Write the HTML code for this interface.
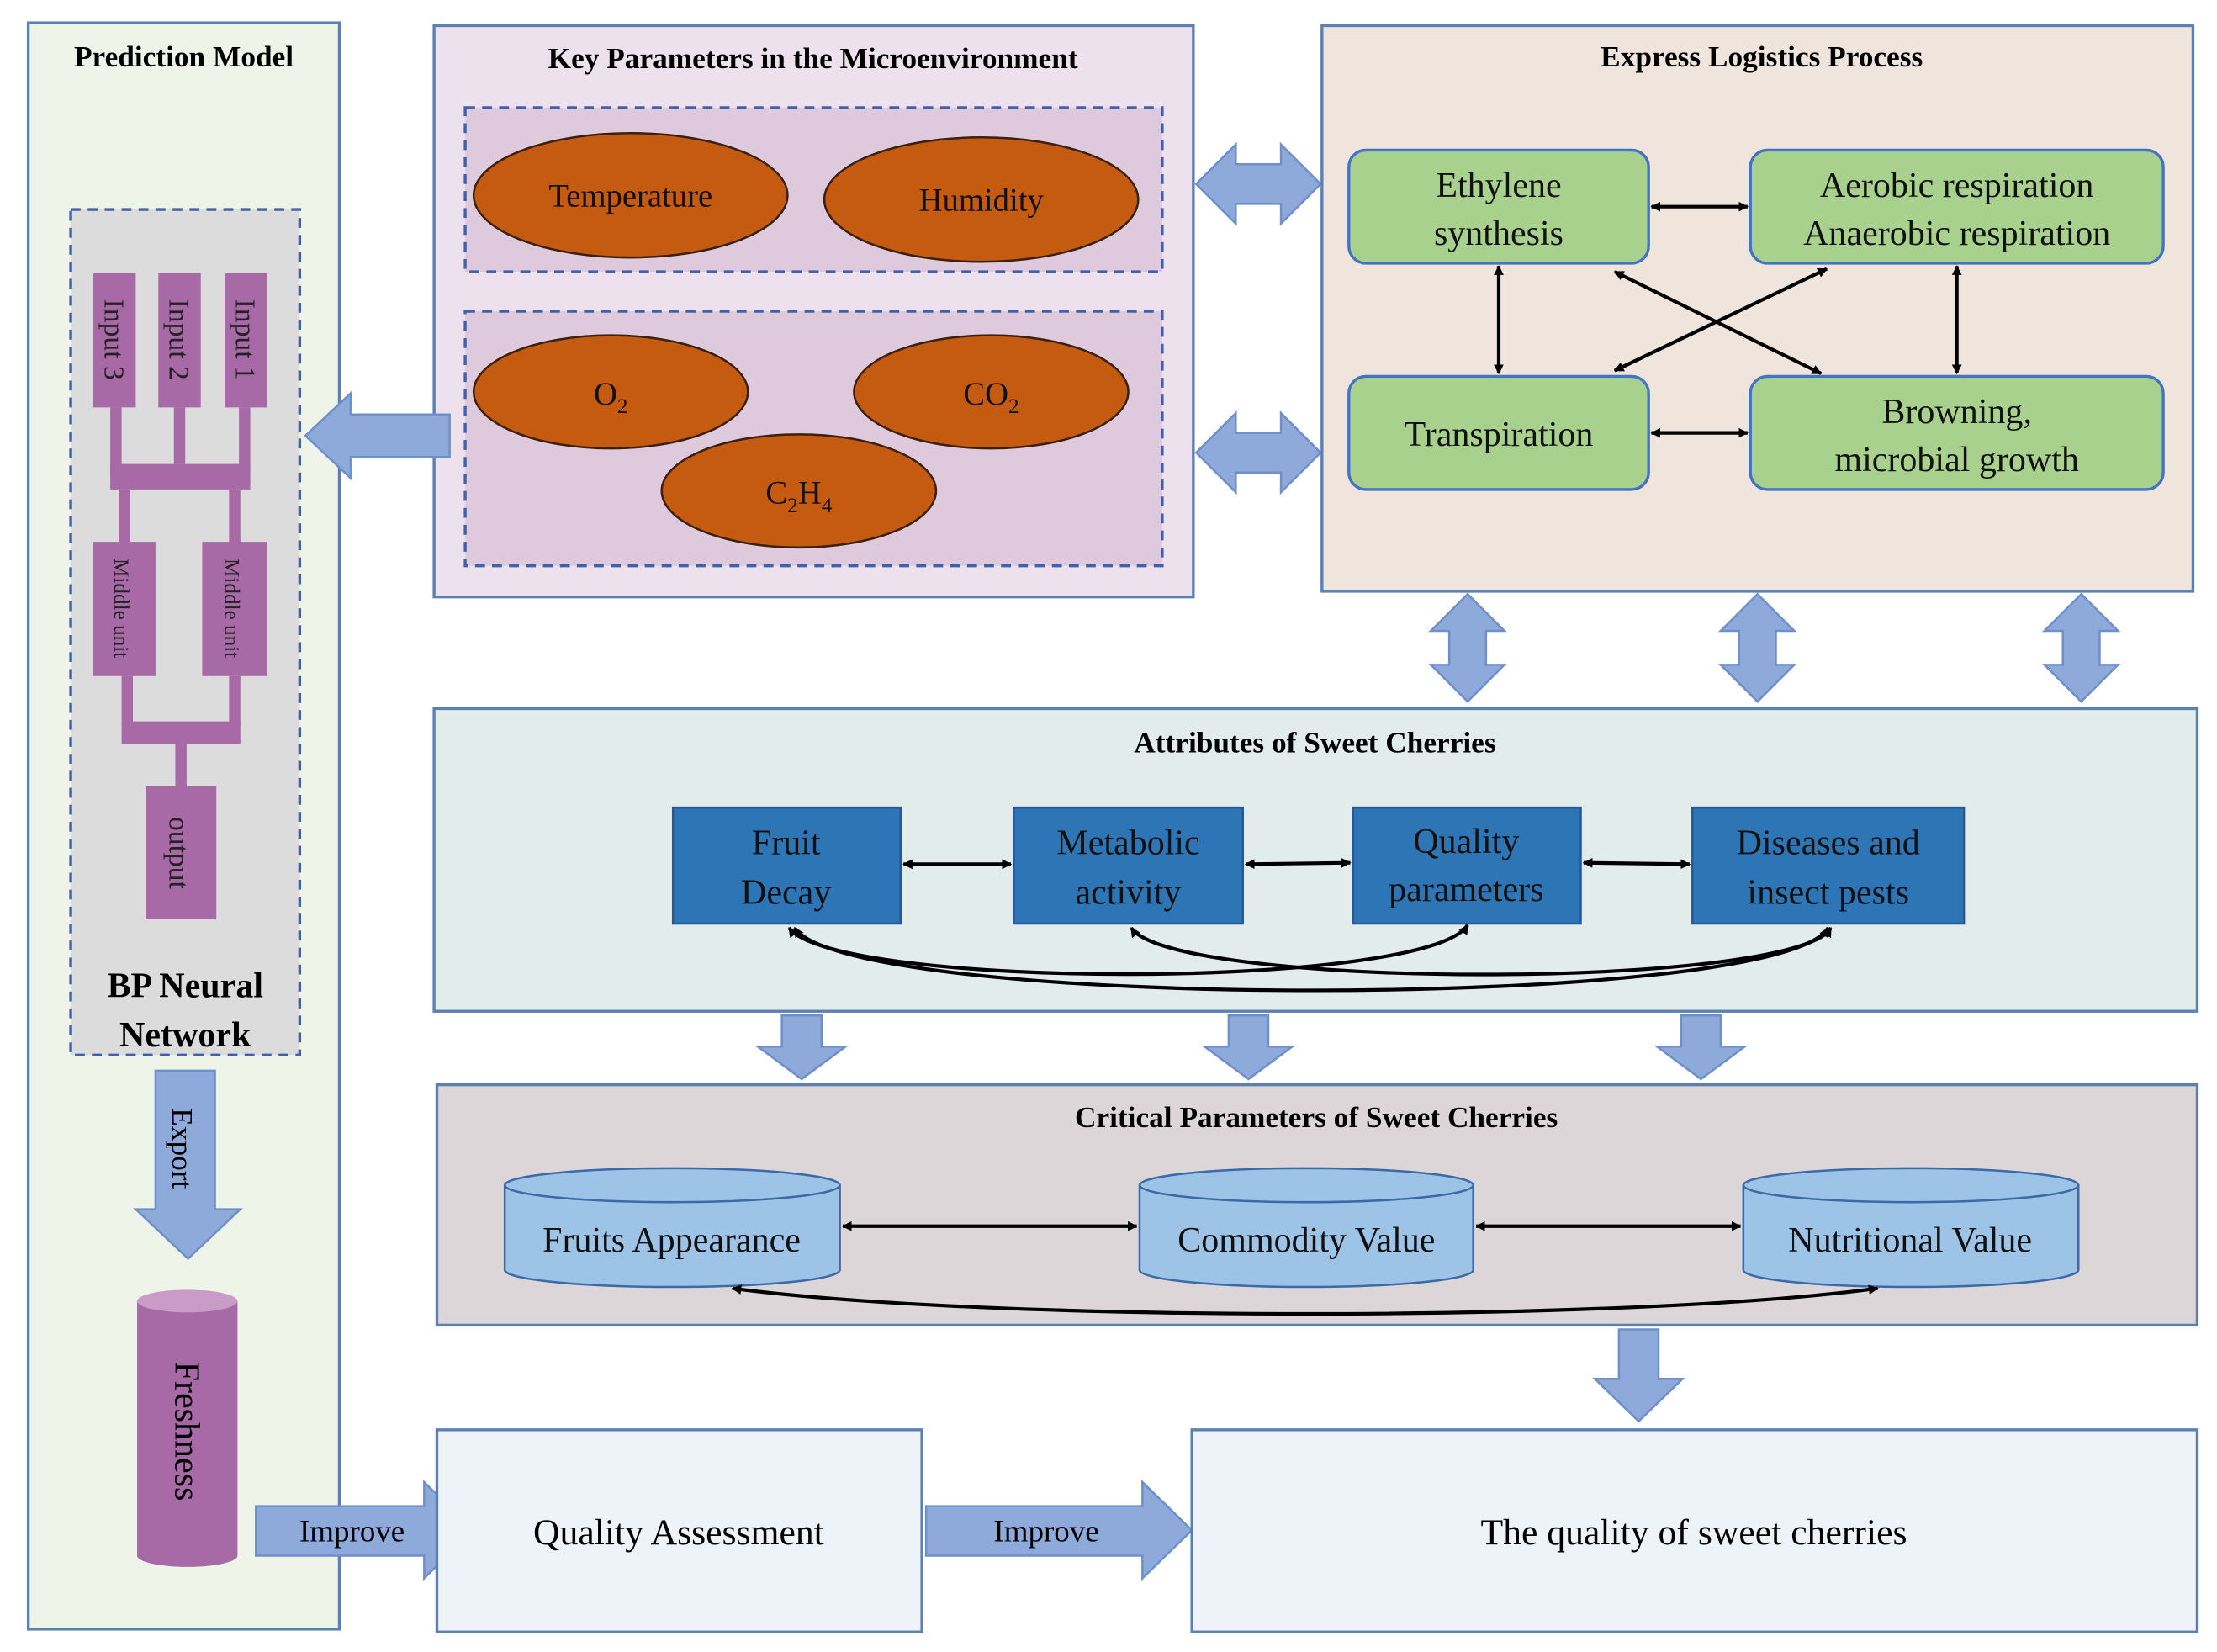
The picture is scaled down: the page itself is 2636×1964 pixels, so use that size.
<!DOCTYPE html>
<html><head><meta charset="utf-8"><style>
html,body{margin:0;padding:0;background:#fff;}
svg{display:block;}
text{font-family:"Liberation Serif",serif;}
</style></head><body>
<svg width="2636" height="1964" viewBox="0 0 1568 1168" xmlns="http://www.w3.org/2000/svg">
<defs>
<marker id="ah" viewBox="0 0 10 10" refX="9" refY="5" markerWidth="7" markerHeight="7" orient="auto-start-reverse" markerUnits="userSpaceOnUse">
<path d="M0,0 L10,5 L0,10 z" fill="#000"/></marker>
</defs>
<rect width="1568" height="1168" fill="#fff"/>

<!-- Prediction model -->
<rect x="20" y="16" width="220" height="1136" fill="#eef5e8" stroke="#5b80b2" stroke-width="2"/>
<text x="130" y="47" font-size="21" font-weight="bold" text-anchor="middle">Prediction Model</text>
<rect x="50" y="148" width="162" height="598" fill="#dcdcdc" stroke="#4060a8" stroke-width="2" stroke-dasharray="7,5"/>
<g fill="#a86aa6">
<rect x="66" y="193" width="30" height="95"/><rect x="112" y="193" width="30" height="95"/><rect x="159" y="193" width="30" height="95"/>
<rect x="78" y="288" width="8" height="50"/><rect x="123" y="288" width="8" height="40"/><rect x="169" y="288" width="8" height="50"/>
<rect x="78" y="328" width="99" height="18"/>
<rect x="84" y="346" width="8" height="40"/><rect x="162" y="346" width="8" height="40"/>
<rect x="66" y="383" width="44" height="95"/><rect x="143" y="383" width="46" height="95"/>
<rect x="86" y="478" width="8" height="35"/><rect x="162" y="478" width="8" height="35"/>
<rect x="86" y="510" width="84" height="16"/>
<rect x="124" y="526" width="8" height="32"/>
<rect x="103" y="556" width="50" height="94"/>
</g>
<g font-size="20" fill="#222">
<text transform="translate(74,240) rotate(90)" text-anchor="middle">Input 3</text>
<text transform="translate(120,240) rotate(90)" text-anchor="middle">Input 2</text>
<text transform="translate(167,240) rotate(90)" text-anchor="middle">Input 1</text>
<text transform="translate(81,430) rotate(90)" text-anchor="middle" font-size="15">Middle unit</text>
<text transform="translate(159,430) rotate(90)" text-anchor="middle" font-size="15">Middle unit</text>
<text transform="translate(120,603) rotate(90)" text-anchor="middle">output</text>
</g>
<text x="131" y="705" font-size="25" font-weight="bold" text-anchor="middle">BP Neural</text>
<text x="131" y="740" font-size="25" font-weight="bold" text-anchor="middle">Network</text>
<!-- Export arrow -->
<path d="M110,757 H152 V855 H170 L133,890 L96,855 H110 Z" fill="#8eaadb" stroke="#6f8fc9" stroke-width="1.5"/>
<text transform="translate(122,812) rotate(90)" font-size="21" text-anchor="middle">Export</text>
<!-- Freshness cylinder -->
<path d="M97,920 V1100 A35.5,8 0 0 0 168,1100 V920 Z" fill="#a86aa6"/>
<ellipse cx="132.5" cy="920" rx="35.5" ry="8" fill="#c99bc6"/>
<text transform="translate(124,1012) rotate(90)" font-size="25" text-anchor="middle">Freshness</text>

<!-- Improve arrows -->
<path d="M181,1065 H300 V1048 L335,1082 L300,1116 V1100 H181 Z" fill="#8eaadb" stroke="#6f8fc9" stroke-width="1.5"/>
<text x="249" y="1090" font-size="22" text-anchor="middle">Improve</text>
<path d="M655,1065 H808 V1048 L843,1082 L808,1116 V1100 H655 Z" fill="#8eaadb" stroke="#6f8fc9" stroke-width="1.5"/>
<text x="740" y="1090" font-size="22" text-anchor="middle">Improve</text>

<!-- Key parameters -->
<rect x="307" y="18" width="537" height="404" fill="#ede1ed" stroke="#5b80b2" stroke-width="2"/>
<text x="575" y="48" font-size="21" font-weight="bold" text-anchor="middle">Key Parameters in the Microenvironment</text>
<rect x="329" y="76" width="493" height="116" fill="#dfcadd" stroke="#4060a8" stroke-width="2" stroke-dasharray="7,5"/>
<rect x="329" y="220" width="493" height="180" fill="#dfcadd" stroke="#4060a8" stroke-width="2" stroke-dasharray="7,5"/>
<g fill="#c55a11" stroke="#3a2010" stroke-width="1.5">
<ellipse cx="446" cy="138" rx="111" ry="44"/><ellipse cx="694" cy="141" rx="111" ry="44"/>
<ellipse cx="432" cy="277" rx="97" ry="40"/><ellipse cx="701" cy="277" rx="97" ry="40"/><ellipse cx="565" cy="347" rx="97" ry="40"/>
</g>
<g font-size="23" text-anchor="middle" fill="#111">
<text x="446" y="146">Temperature</text><text x="694" y="149">Humidity</text>
<text x="432" y="286">O<tspan font-size="15" dy="6">2</tspan></text>
<text x="701" y="286">CO<tspan font-size="15" dy="6">2</tspan></text>
<text x="565" y="356">C<tspan font-size="15" dy="6">2</tspan><tspan dy="-6">H</tspan><tspan font-size="15" dy="6">4</tspan></text>
</g>
<!-- left arrow -->
<path d="M318,293 H248 V278 L216,308 L248,338 V323 H318 Z" fill="#8eaadb" stroke="#6f8fc9" stroke-width="1.5"/>
<!-- double arrows horizontal -->
<path d="M846,130 L874,102 V116 H906 V102 L934,130 L906,158 V144 H874 V158 Z" fill="#8eaadb" stroke="#6f8fc9" stroke-width="1.5"/>
<path d="M846,320 L874,292 V306 H906 V292 L934,320 L906,348 V334 H874 V348 Z" fill="#8eaadb" stroke="#6f8fc9" stroke-width="1.5"/>

<!-- Express logistics -->
<rect x="935" y="18" width="616" height="400" fill="#efe5dc" stroke="#5b80b2" stroke-width="2"/>
<text x="1246" y="47" font-size="21" font-weight="bold" text-anchor="middle">Express Logistics Process</text>
<g fill="#a9d18e" stroke="#4472c4" stroke-width="2">
<rect x="954" y="106" width="212" height="80" rx="12"/><rect x="1238" y="106" width="292" height="80" rx="12"/>
<rect x="954" y="266" width="212" height="80" rx="12"/><rect x="1238" y="266" width="292" height="80" rx="12"/>
</g>
<g font-size="25" text-anchor="middle" fill="#111">
<text x="1060" y="139">Ethylene</text><text x="1060" y="173">synthesis</text>
<text x="1384" y="139">Aerobic respiration</text><text x="1384" y="173">Anaerobic respiration</text>
<text x="1060" y="315">Transpiration</text>
<text x="1384" y="299">Browning,</text><text x="1384" y="333">microbial growth</text>
</g>
<g stroke="#000" stroke-width="2.5" fill="none" marker-start="url(#ah)" marker-end="url(#ah)">
<line x1="1168" y1="146" x2="1236" y2="146"/>
<line x1="1168" y1="306" x2="1236" y2="306"/>
<line x1="1060" y1="188" x2="1060" y2="264"/>
<line x1="1384" y1="188" x2="1384" y2="264"/>
<line x1="1142" y1="192" x2="1288" y2="264"/>
<line x1="1292" y1="190" x2="1142" y2="262"/>
</g>
<!-- vertical double arrows -->
<g fill="#8eaadb" stroke="#6f8fc9" stroke-width="1.5">
<path d="M1038,420 L1064,446 H1051 V470 H1064 L1038,496 L1012,470 H1025 V446 H1012 Z"/>
<path d="M1243,420 L1269,446 H1256 V470 H1269 L1243,496 L1217,470 H1230 V446 H1217 Z"/>
<path d="M1472,420 L1498,446 H1485 V470 H1498 L1472,496 L1446,470 H1459 V446 H1446 Z"/>
</g>

<!-- Attributes -->
<rect x="307" y="501" width="1247" height="214" fill="#e2ecea" stroke="#5b80b2" stroke-width="2"/>
<text x="930" y="532" font-size="21" font-weight="bold" text-anchor="middle">Attributes of Sweet Cherries</text>
<g fill="#2e75b6" stroke="#25589a" stroke-width="1.5">
<rect x="476" y="571" width="161" height="82"/><rect x="717" y="571" width="162" height="82"/>
<rect x="957" y="571" width="161" height="82"/><rect x="1197" y="571" width="192" height="82"/>
</g>
<g font-size="25" text-anchor="middle" fill="#111">
<text x="556" y="604">Fruit</text><text x="556" y="639">Decay</text>
<text x="798" y="604">Metabolic</text><text x="798" y="639">activity</text>
<text x="1037" y="603">Quality</text><text x="1037" y="637">parameters</text>
<text x="1293" y="604">Diseases and</text><text x="1293" y="639">insect pests</text>
</g>
<g stroke="#000" stroke-width="2.5" fill="none" marker-start="url(#ah)" marker-end="url(#ah)">
<line x1="639" y1="611" x2="715" y2="611"/>
<line x1="881" y1="611" x2="955" y2="610"/>
<line x1="1120" y1="610" x2="1195" y2="611"/>
<path d="M558,656 C590,700 1010,700 1038,654"/>
<path d="M800,656 C830,700 1270,700 1295,656"/>
<path d="M562,656 C600,715 1260,715 1293,656"/>
</g>
<g fill="#8eaadb" stroke="#6f8fc9" stroke-width="1.5">
<path d="M553,718 H581 V740 H598 L567,763 L536,740 H553 Z"/>
<path d="M869,718 H897 V740 H914 L883,763 L852,740 H869 Z"/>
<path d="M1189,718 H1217 V740 H1234 L1203,763 L1172,740 H1189 Z"/>
</g>

<!-- Critical parameters -->
<rect x="309" y="767" width="1245" height="170" fill="#ddd6d8" stroke="#5b80b2" stroke-width="2"/>
<text x="931" y="797" font-size="21" font-weight="bold" text-anchor="middle">Critical Parameters of Sweet Cherries</text>
<g fill="#9dc3e6" stroke="#3b6aa8" stroke-width="1.5">
<path d="M357,838 V898 A118.5,12 0 0 0 594,898 V838"/><ellipse cx="475.5" cy="838" rx="118.5" ry="12"/>
<path d="M806,838 V898 A118,12 0 0 0 1042,898 V838"/><ellipse cx="924" cy="838" rx="118" ry="12"/>
<path d="M1233,838 V898 A118.5,12 0 0 0 1470,898 V838"/><ellipse cx="1351.5" cy="838" rx="118.5" ry="12"/>
</g>
<g font-size="25" text-anchor="middle" fill="#111">
<text x="475" y="885">Fruits Appearance</text><text x="924" y="885">Commodity Value</text><text x="1351" y="885">Nutritional Value</text>
</g>
<g stroke="#000" stroke-width="2.5" fill="none" marker-start="url(#ah)" marker-end="url(#ah)">
<line x1="596" y1="867" x2="804" y2="867"/>
<line x1="1044" y1="867" x2="1231" y2="867"/>
<path d="M518,911 C700,935 1150,935 1328,911"/>
</g>
<path d="M1145,940 H1173 V975 H1190 L1159,1005 L1128,975 H1145 Z" fill="#8eaadb" stroke="#6f8fc9" stroke-width="1.5"/>

<!-- bottom boxes -->
<rect x="309" y="1011" width="343" height="143" fill="#eef2f9" stroke="#5b80b2" stroke-width="2"/>
<text x="480" y="1092" font-size="26" text-anchor="middle">Quality Assessment</text>
<rect x="843" y="1011" width="711" height="143" fill="#eef2f9" stroke="#5b80b2" stroke-width="2"/>
<text x="1198" y="1092" font-size="26" text-anchor="middle">The quality of sweet cherries</text>
</svg>
</body></html>
